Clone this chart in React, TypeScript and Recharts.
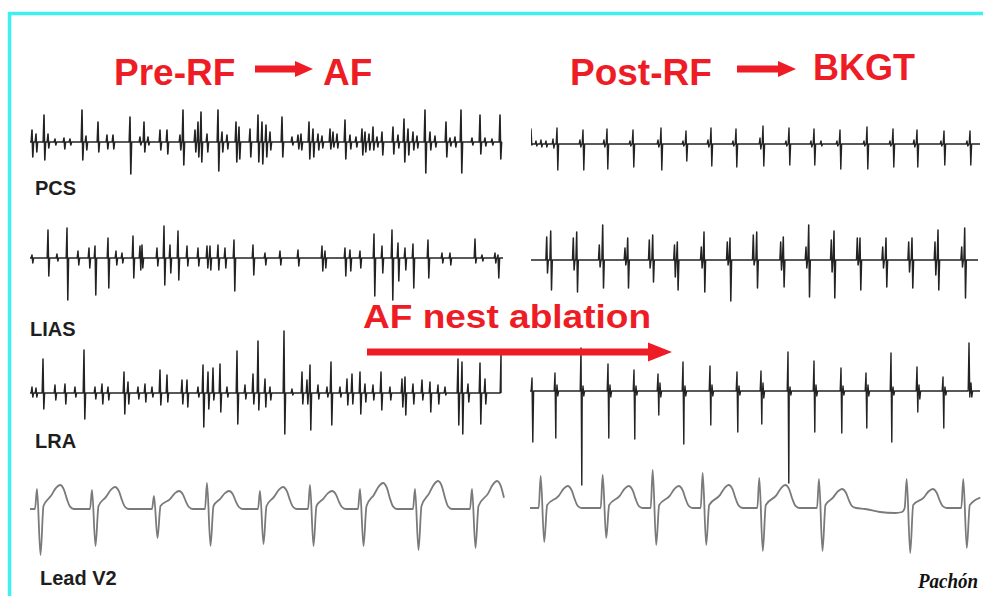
import { LineChart, Line, XAxis, YAxis } from "recharts";

// spikes: [time, up, down] in trace units (1 unit = 1 px)
const PRE_PCS = [
  [2, 12, 15], [6, 8, 10], [14, 27, 18], [18, 8, 6], [25, 3, 3], [34, 4, 7], [40, 3, 3],
  [52, 32, 18], [56, 6, 8], [68, 20, 10], [77, 7, 7], [83, 7, 7], [100, 25, 32], [110, 5, 3],
  [114, 20, 10], [118, 5, 3], [130, 12, 8], [137, 12, 12], [150, 7, 8], [153, 32, 23],
  [165, 12, 10], [168, 20, 15], [171, 30, 20], [177, 8, 10], [188, 32, 29], [192, 10, 10],
  [197, 7, 7], [206, 20, 20], [209, 15, 17], [220, 13, 15], [228, 27, 20], [232, 20, 22],
  [236, 17, 15], [240, 10, 8], [252, 25, 15], [262, 5, 3], [268, 7, 7], [271, 8, 8],
  [279, 20, 17], [283, 13, 15], [288, 8, 8], [292, 6, 6], [300, 13, 7], [303, 10, 5],
  [307, 8, 6], [315, 22, 17], [320, 7, 7], [326, 5, 5], [332, 13, 13], [335, 10, 10],
  [339, 8, 8], [343, 15, 8], [347, 5, 5], [352, 10, 13], [363, 15, 12], [368, 7, 6],
  [374, 23, 20], [378, 13, 13], [383, 10, 8], [387, 6, 6], [395, 32, 31], [400, 10, 8],
  [405, 6, 5], [416, 20, 15], [420, 4, 4], [425, 5, 5], [431, 32, 31], [442, 4, 3],
  [450, 27, 12], [455, 4, 4], [462, 3, 3], [470, 27, 17],
];

const POST_PCS = [
  [0, 15, 1], [5, 3, 2], [10, 4, 3], [15, 3, 3], [22, 5, 4], [26, 16, 26], [49, 4, 3],
  [52, 14, 26], [73, 4, 3], [76, 15, 25], [99, 3, 2], [102, 14, 23], [127, 4, 3],
  [130, 16, 26], [152, 3, 2], [155, 13, 17], [177, 4, 3], [180, 16, 22], [202, 3, 2],
  [205, 15, 23], [229, 6, 5], [232, 18, 22], [255, 3, 2], [258, 16, 21], [280, 3, 3],
  [283, 15, 21], [290, 3, 2], [306, 3, 2], [309, 14, 25], [333, 3, 2], [336, 17, 25],
  [359, 3, 2], [362, 15, 23], [383, 4, 3], [386, 14, 23], [410, 3, 2], [413, 13, 21],
  [436, 3, 2], [439, 13, 21],
];

const PRE_LIAS = [
  [2, 3, 5], [18, 28, 18], [27, 4, 3], [37, 30, 42], [48, 7, 7], [59, 10, 10], [65, 12, 37],
  [78, 20, 30], [86, 7, 7], [92, 5, 5], [103, 22, 20], [110, 12, 12], [112, 13, 10],
  [127, 10, 8], [134, 32, 27], [140, 13, 15], [148, 27, 22], [157, 12, 8], [168, 10, 8],
  [177, 12, 10], [180, 12, 12], [188, 13, 12], [195, 10, 10], [204, 18, 33], [223, 13, 17],
  [235, 5, 7], [250, 7, 7], [268, 8, 8], [292, 12, 13], [295, 7, 10], [315, 10, 18],
  [320, 8, 13], [330, 7, 10], [344, 24, 38], [352, 12, 15], [362, 28, 42], [368, 15, 23],
  [375, 10, 12], [383, 14, 30], [398, 18, 20], [412, 5, 5], [420, 5, 7], [445, 19, 5],
  [452, 3, 3], [465, 5, 5], [468, 3, 20],
];

const POST_LIAS = [
  [15.7, 23, 13], [19.7, 29, 30], [42.3, 22, 10], [45.7, 28, 32], [68.3, 15, 7], [71.7, 35, 28],
  [94, 12, 5], [96.7, 22, 28], [118.3, 20, 8], [121.7, 25, 22], [143.5, 15, 17], [146.3, 18, 30],
  [170.3, 13, 8], [173, 28, 32], [196.3, 18, 5], [199, 22, 41], [222.3, 25, 5], [225.7, 28, 28],
  [249.7, 18, 10], [252.3, 23, 27], [275, 13, 8], [277.7, 35, 37], [300.3, 20, 12], [303, 29, 38],
  [326.3, 22, 5], [329, 22, 30], [351.7, 13, 8], [355, 22, 27], [377.7, 18, 12], [381, 22, 28],
  [404, 18, 15], [407, 30, 30], [430.7, 13, 7], [433.7, 32, 38],
];

const PRE_LRA = [
  [2, 6, 4], [6, 5, 4], [13, 34, 16], [25, 8, 7], [35, 9, 11], [45, 6, 4], [54, 43, 26],
  [65, 6, 6], [72, 9, 11], [78, 6, 7], [94, 21, 21], [98, 11, 11], [108, 6, 6], [115, 9, 9],
  [122, 6, 4], [130, 23, 12], [137, 18, 9], [152, 13, 11], [157, 13, 14], [168, 6, 4],
  [173, 28, 34], [178, 21, 16], [183, 25, 7], [190, 29, 19], [197, 6, 4], [207, 42, 31],
  [215, 8, 6], [223, 19, 11], [228, 52, 17], [235, 14, 14], [240, 6, 7], [254, 62, 41],
  [262, 4, 2], [272, 21, 11], [277, 13, 11], [280, 28, 37], [288, 8, 6], [297, 6, 4],
  [301, 31, 32], [310, 6, 4], [317, 14, 12], [322, 19, 11], [330, 21, 21], [335, 9, 9],
  [343, 8, 7], [351, 21, 17], [360, 6, 7], [372, 14, 14], [375, 16, 22], [383, 9, 11],
  [392, 13, 7], [400, 11, 19], [408, 8, 11], [415, 6, 2], [428, 34, 32], [432, 31, 41],
  [438, 9, 9], [450, 30, 31], [455, 14, 11], [471, 38, 39],
];

const POST_LRA = [
  [2, 13, 51], [25, 18, 47], [27, 6, 5], [51, 43, 94], [53, 5, 5], [78, 27, 47], [80, 6, 6],
  [104, 21, 48], [106, 5, 4], [128, 17, 24], [130, 8, 6], [153, 29, 53], [155, 5, 5],
  [180, 25, 34], [182, 6, 5], [207, 19, 41], [209, 5, 4], [231, 20, 33], [233, 8, 7],
  [258, 39, 92], [260, 4, 4], [284, 30, 41], [286, 6, 5], [311, 23, 42], [313, 5, 4],
  [336, 18, 37], [338, 6, 5], [361, 38, 51], [363, 4, 4], [387, 24, 21], [389, 6, 8],
  [413, 14, 37], [415, 4, 4], [439, 48, 6], [441, 8, 6],
];

// beats: [R time, R height, S depth, T height, R-to-T-peak]
const PRE_V2 = [
  [7, 20, 46, 24, 23], [62, 19, 37, 22, 23], [124, 13, 29, 18, 25], [177, 26, 37, 18, 22],
  [230, 18, 35, 22, 23], [280, 24, 37, 18, 22], [330, 20, 37, 26, 23], [385, 20, 41, 28, 23],
  [442, 20, 39, 28, 25],
];

const POST_V2 = [
  [10.7, 32, 34, 22, 27], [72.7, 33, 30, 22, 26], [122.7, 38, 37, 22, 26], [172.7, 35, 37, 23, 26],
  [229.3, 30, 43, 23, 26], [289, 29, 43, 19, 23], [376.7, 29, 45, 19, 26], [433.3, 29, 40, 19, 26],
];
const POST_V2_DRIFT = [[335, -1], [350, -4], [365, -5], [372, -4]];

type Pt = { t: number; v: number };

function spikes(events: number[][], end: number): Pt[] {
  const pts: Pt[] = [{ t: 0, v: 0 }];
  for (const [t, up, down] of events) {
    pts.push({ t: t - 0.8, v: 0 }, { t, v: up }, { t: t + 0.8, v: -down }, { t: t + 1.6, v: 0 });
  }
  pts.push({ t: end, v: 0 });
  return pts.filter((p) => p.t >= 0 && p.t <= end).sort((a, b) => a.t - b.t);
}

function beats(list: number[][], end: number, drift: number[][] = []): Pt[] {
  const pts: Pt[] = [{ t: 0, v: 0 }];
  for (const [t, r, s, tw, tp] of list) {
    pts.push(
      { t: t - 2, v: 0 },
      { t, v: r },
      { t: t + 3.5, v: -s },
      { t: t + 6.5, v: 3 },
      { t: t + tp - 9, v: tw * 0.55 },
      { t: t + tp - 4, v: tw * 0.88 },
      { t: t + tp, v: tw },
      { t: t + tp + 4, v: tw * 0.8 },
      { t: t + tp + 7, v: tw * 0.4 },
      { t: t + tp + 10, v: tw * 0.1 },
      { t: t + tp + 14, v: 0 }
    );
  }
  for (const [t, v] of drift) pts.push({ t, v });
  return pts.filter((p) => p.t >= 0 && p.t <= end).sort((a, b) => a.t - b.t);
}

function Trace(props: {
  data: Pt[];
  left: number;
  base: number;
  width: number;
  up: number;
  down: number;
  color: string;
  sw: number;
  smooth?: boolean;
}) {
  const { data, left, base, width, up, down, color, sw, smooth } = props;
  return (
    <div style={{ position: "absolute", left, top: base - up }}>
      <LineChart width={width} height={up + down} data={data} margin={{ top: 0, right: 0, bottom: 0, left: 0 }}>
        <XAxis type="number" dataKey="t" domain={[0, width]} hide />
        <YAxis type="number" domain={[-down, up]} hide />
        <Line
          type={smooth ? "monotone" : "linear"}
          dataKey="v"
          stroke={color}
          strokeWidth={sw}
          strokeLinejoin="round"
          dot={false}
          isAnimationActive={false}
        />
      </LineChart>
    </div>
  );
}

const RED = "#ee1c25";
const INK = "#232323";

function Arrow({ x1, x2, y, shaft, head, headLen }: { x1: number; x2: number; y: number; shaft: number; head: number; headLen: number }) {
  return (
    <g fill={RED}>
      <rect x={x1} y={y - shaft / 2} width={x2 - headLen - x1 + 1} height={shaft} />
      <polygon points={`${x2 - headLen},${y - head / 2} ${x2},${y} ${x2 - headLen},${y + head / 2}`} />
    </g>
  );
}

export default function App() {
  const sans = "'Liberation Sans', Arial, sans-serif";
  return (
    <div style={{ position: "absolute", left: 0, top: 0, width: 983, height: 596, background: "#fff", overflow: "hidden" }}>
      <Trace data={spikes(PRE_PCS, 472)} left={30} base={142} width={475} up={36} down={36} color={INK} sw={1.6} />
      <Trace data={spikes(POST_PCS, 449)} left={531} base={144} width={452} up={22} down={30} color={INK} sw={1.4} />
      <Trace data={spikes(PRE_LIAS, 473)} left={30} base={258} width={475} up={36} down={46} color={INK} sw={1.5} />
      <Trace data={spikes(POST_LIAS, 447)} left={531} base={260} width={452} up={38} down={44} color={INK} sw={1.5} />
      <Trace data={spikes(PRE_LRA, 471)} left={30} base={393} width={475} up={66} down={46} color={INK} sw={1.5} />
      <Trace data={spikes(POST_LRA, 450)} left={530} base={391} width={453} up={50} down={96} color={INK} sw={1.4} />
      <Trace data={beats(PRE_V2, 475)} left={30} base={509} width={475} up={32} down={50} color="#7a7a7a" sw={1.8} smooth />
      <Trace data={beats(POST_V2, 452, POST_V2_DRIFT)} left={530} base={508} width={453} up={42} down={50} color="#7a7a7a" sw={1.8} smooth />

      <svg width={983} height={596} style={{ position: "absolute", left: 0, top: 0, pointerEvents: "none" }}>
        <line x1={8} y1={13.5} x2={983} y2={13.5} stroke="#3ff0ee" strokeWidth={3.5} />
        <line x1={9.5} y1={12} x2={9.5} y2={596} stroke="#3ff0ee" strokeWidth={3.5} />

        <g fill={RED} fontFamily={sans} fontWeight="bold">
          <text x={114} y={85} fontSize={37}>Pre-RF</text>
          <text x={323} y={85} fontSize={37}>AF</text>
          <text x={570} y={85} fontSize={37}>Post-RF</text>
          <text x={813} y={80} fontSize={36}>BKGT</text>
          <text x={363} y={328} fontSize={33} textLength={288} lengthAdjust="spacingAndGlyphs">AF nest ablation</text>
        </g>
        <Arrow x1={255} x2={313} y={69} shaft={7} head={16} headLen={18} />
        <Arrow x1={737} x2={796} y={69} shaft={7} head={16} headLen={18} />
        <Arrow x1={367} x2={672} y={352} shaft={7} head={19} headLen={24} />

        <g fill="#1e1e1e" fontFamily={sans} fontWeight="bold" fontSize={20}>
          <text x={35} y={195}>PCS</text>
          <text x={30} y={336}>LIAS</text>
          <text x={35} y={448}>LRA</text>
          <text x={40} y={585}>Lead V2</text>
        </g>
        <text
          x={918}
          y={588}
          fontFamily="'Liberation Serif', serif"
          fontStyle="italic"
          fontWeight="bold"
          fontSize={20}
          fill="#111"
          textLength={60}
          lengthAdjust="spacingAndGlyphs"
        >
          Pachón
        </text>
      </svg>
    </div>
  );
}
